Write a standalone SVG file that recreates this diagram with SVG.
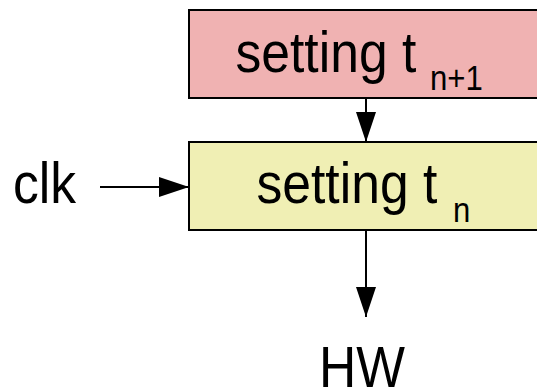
<svg xmlns="http://www.w3.org/2000/svg" width="537" height="389" viewBox="0 0 537 389">
<defs>
<style>
.box{stroke:#000;stroke-width:2}
.t{font-family:"Liberation Sans",Arial,sans-serif;fill:#000}
.big{font-size:58px}
.sub{font-size:35px}
.conn{stroke:#000;stroke-width:2;fill:none}
</style>
<marker id="a" viewBox="0 0 30 20" refX="30" refY="10" markerWidth="30" markerHeight="20" markerUnits="userSpaceOnUse" orient="auto">
<path d="M0,0 L30,10 L0,20 Z" fill="#000"/>
</marker>
</defs>
<g id="node-tn1">
<rect class="box" x="189" y="10" width="360" height="88" fill="#f0b2b2"/>
<text class="t big" x="235.5" y="72" textLength="180.8" lengthAdjust="spacingAndGlyphs">setting t</text>
<text class="t sub" x="430" y="90" textLength="52.8" lengthAdjust="spacingAndGlyphs">n+1</text>
</g>
<g id="node-tn">
<rect class="box" x="189" y="142" width="360" height="88" fill="#f0efb4"/>
<text class="t big" x="256.5" y="203" textLength="180.8" lengthAdjust="spacingAndGlyphs">setting t</text>
<text class="t sub" x="453" y="222" textLength="17.3" lengthAdjust="spacingAndGlyphs">n</text>
</g>
<g id="node-clk">
<text class="t big" x="13" y="203" textLength="63.1" lengthAdjust="spacingAndGlyphs">clk</text>
</g>
<g id="node-hw">
<text class="t big" x="319" y="387" textLength="86" lengthAdjust="spacingAndGlyphs">HW</text>
</g>
<g id="connectors">
<line class="conn" x1="100" y1="187" x2="189" y2="187" marker-end="url(#a)"/>
<line class="conn" x1="366" y1="98" x2="366" y2="142" marker-end="url(#a)"/>
<line class="conn" x1="366" y1="230" x2="366" y2="317" marker-end="url(#a)"/>
</g>
</svg>
